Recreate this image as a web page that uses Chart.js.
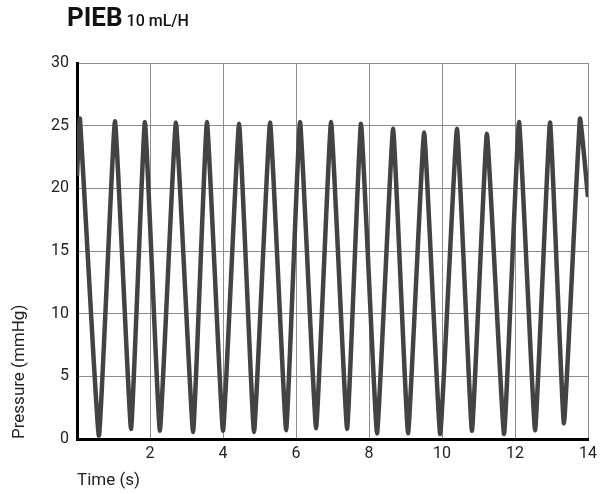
<!DOCTYPE html>
<html>
<head>
<meta charset="utf-8">
<script src="https://cdn.jsdelivr.net/npm/chart.js@4"></script>
<style>
  html, body { margin: 0; padding: 0; background: #fff; }
  #wrap { position: relative; width: 604px; height: 494px; }
  #title { position: absolute; left: 67px; top: 2px; font-family: Roboto, sans-serif; color: #111; white-space: nowrap; }
  #title b { font-size: 26px; font-weight: 700; }
  #title span { font-size: 16px; font-weight: 500; }
</style>
</head>
<body>
<div id="wrap">
  <div id="title"><b>PIEB</b> <span>10 mL/H</span></div>
  <canvas id="pressureChart" width="604" height="494"></canvas>
</div>
<script>
// peaks and troughs of the pressure trace
const timeS = [
    0, 0.08, 0.60, 1.04, 1.48, 1.86, 2.27, 2.71, 3.18, 3.56, 4.00, 4.44,
    4.85, 5.29, 5.73, 6.11, 6.55, 6.96, 7.40, 7.78, 8.22, 8.66, 9.07, 9.51,
    9.95, 10.41, 10.82, 11.23, 11.70, 12.11, 12.55, 12.96, 13.34, 13.78, 14
];
const pressure = [
    21, 25.55, 0.25, 25.35, 0.8, 25.3, 0.65, 25.25, 0.55, 25.3, 0.65, 25.15,
    0.55, 25.25, 0.7, 25.3, 0.85, 25.3, 0.8, 25.15, 0.45, 24.75, 0.45, 24.45,
    0.4, 24.75, 0.65, 24.35, 0.4, 25.3, 0.7, 25.25, 1.25, 25.55, 19.3
];
const xTicks = [0, 2, 4, 6, 8, 10, 12, 14];
const yTicks = [0, 5, 10, 15, 20, 25, 30];

const points = timeS.map((t, i) => ({ x: t, y: pressure[i] }));

const tickFont = { family: "Roboto", size: 16 };
const titleFont = { family: "Roboto", size: 17 };

new Chart(document.getElementById("pressureChart").getContext("2d"), {
    type: "line",
    data: {
        datasets: [{
            label: "Pressure",
            data: points,
            borderColor: "#434343",
            borderWidth: 4.5,
            borderJoinStyle: "round",
            pointRadius: 0,
            fill: false,
            tension: 0.1
        }]
    },
    options: {
        responsive: false,
        animation: false,
        layout: { padding: { top: 63, right: 16, bottom: 0, left: 0 } },
        plugins: { legend: { display: false }, tooltip: { enabled: false } },
        scales: {
            x: {
                type: "linear",
                min: xTicks[0],
                max: xTicks[xTicks.length - 1],
                afterBuildTicks: (scale) => { scale.ticks = xTicks.map(v => ({ value: v })); },
                afterFit: (scale) => { scale.height = 55; },
                ticks: {
                    color: "#222",
                    font: tickFont,
                    padding: 5,
                    maxRotation: 0,
                    callback: (v) => v === 0 ? "" : v
                },
                grid: { color: "#8c8c8c", lineWidth: 1, drawTicks: false },
                border: { color: "#000", width: 3 },
                title: {
                    display: true,
                    text: "Time (s)",
                    align: "start",
                    color: "#222",
                    font: titleFont,
                    padding: { top: 0, bottom: 3 }
                }
            },
            y: {
                min: yTicks[0],
                max: yTicks[yTicks.length - 1],
                afterBuildTicks: (scale) => { scale.ticks = yTicks.map(v => ({ value: v })); },
                afterFit: (scale) => { scale.width = 77; },
                ticks: { color: "#222", font: tickFont, padding: 8 },
                grid: { color: "#8c8c8c", lineWidth: 1, drawTicks: false },
                border: { color: "#000", width: 3 },
                title: {
                    display: true,
                    text: "Pressure (mmHg)",
                    align: "start",
                    color: "#222",
                    font: titleFont,
                    padding: { top: 10, bottom: 0 }
                }
            }
        }
    }
});
</script>
</body>
</html>
